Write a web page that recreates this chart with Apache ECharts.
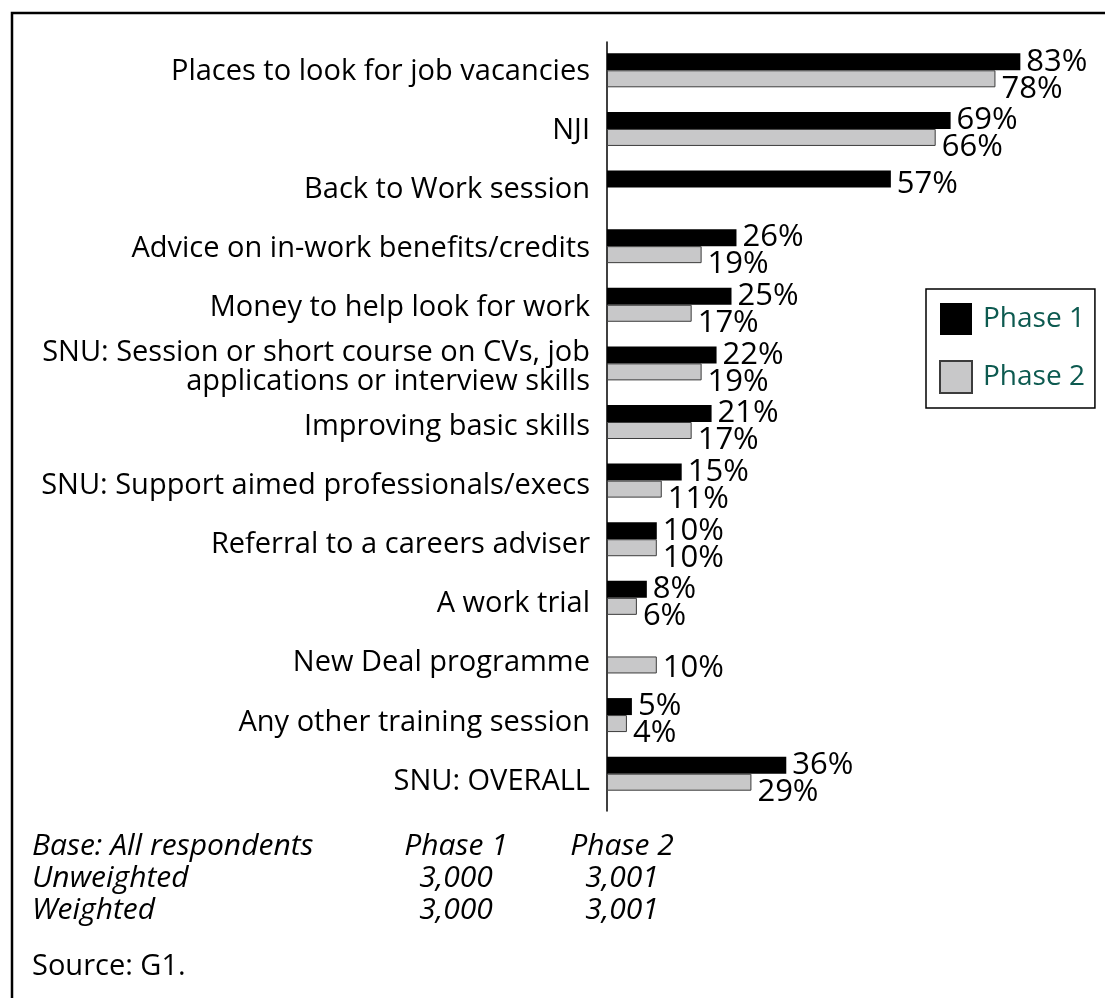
<!DOCTYPE html>
<html>
<head>
<meta charset="utf-8">
<script src="https://cdn.jsdelivr.net/npm/echarts@6/dist/echarts.min.js"></script>
<style>
  html, body { margin: 0; padding: 0; background: #fff; }
  #chart { width: 1105px; height: 998px; }
</style>
</head>
<body>
<div id="chart"></div>
<script>
// categories, top to bottom
const categories = [
  "Places to look for job vacancies",
  "NJI",
  "Back to Work session",
  "Advice on in-work benefits/credits",
  "Money to help look for work",
  "SNU: Session or short course on CVs, job\napplications or interview skills",
  "Improving basic skills",
  "SNU: Support aimed professionals/execs",
  "Referral to a careers adviser",
  "A work trial",
  "New Deal programme",
  "Any other training session",
  "SNU: OVERALL"
];
const phase1 = [83, 69, 57, 26, 25, 22, 21, 15, 10, 8, null, 5, 36];
const phase2 = [78, 66, null, 19, 17, 19, 17, 11, 10, 6, 10, 4, 29];
const seriesNames = ["Phase 1", "Phase 2"];

const baseHeader = ["Base: All respondents", "Phase 1", "Phase 2"];
const baseRows = [
  ["Unweighted", "3,000", "3,001"],
  ["Weighted", "3,000", "3,001"]
];
const sourceText = "Source: G1.";

const FONT = "Open Sans";
const chart = echarts.init(document.getElementById("chart"));

// footnote table as plain text
const footGraphics = [];
const colX = [32, 456, 622];
const rowY = [846, 878, 910];
[baseHeader].concat(baseRows).forEach((row, r) => {
  row.forEach((txt, c) => {
    footGraphics.push({
      type: "text",
      x: colX[c],
      y: rowY[r],
      style: {
        text: txt,
        fontFamily: FONT,
        fontStyle: "italic",
        fontSize: 30,
        fill: "#000",
        textAlign: c === 0 ? "left" : "center",
        textVerticalAlign: "middle"
      }
    });
  });
});

const labelCommon = {
  show: true,
  position: "right",
  distance: 6,
  formatter: "{c}%",
  fontFamily: FONT,
  fontSize: 31,
  color: "#000"
};

// rows with only one phase: label sits a little lower
const p1Data = phase1.map((v, i) =>
  phase2[i] == null ? { value: v, label: { offset: [0, 5] } } : v
);
const p2Data = phase2.map((v, i) =>
  phase1[i] == null ? { value: v, label: { offset: [0, 3] } } : v
);

chart.setOption({
  animation: false,
  grid: [
    { left: 607, top: 41, width: 498, height: 762 },
    // labels (and axis line) sit on a slightly taller, lower band than the bars
    { left: 607, top: 42, width: 498, height: 769 }
  ],
  legend: {
    data: seriesNames,
    orient: "vertical",
    left: 926,
    top: 289,
    padding: [14, 10, 14, 13],
    itemWidth: 32,
    itemHeight: 32,
    itemGap: 25,
    icon: "rect",
    borderColor: "#000",
    borderWidth: 1.5,
    textStyle: { fontFamily: FONT, fontSize: 28, color: "#0d5a50", padding: [0, 0, 0, 6] }
  },
  xAxis: [
    { type: "value", min: 0, max: 100, show: false, gridIndex: 0 },
    { type: "value", min: 0, max: 100, show: false, gridIndex: 1 }
  ],
  yAxis: [
    {
      type: "category",
      gridIndex: 0,
      data: categories,
      inverse: true,
      axisTick: { show: false },
      axisLine: { show: false },
      axisLabel: { show: false }
    },
    {
      type: "category",
      gridIndex: 1,
      data: categories,
      inverse: true,
      axisTick: { show: false },
      axisLine: { lineStyle: { color: "#000", width: 1.5 } },
      splitLine: { show: false },
      axisLabel: {
        margin: 17,
        fontFamily: FONT,
        fontSize: 29,
        color: "#000",
        lineHeight: 29,
        align: "right"
      }
    }
  ],
  series: [
    {
      name: seriesNames[0],
      type: "bar",
      data: p1Data,
      barWidth: 17,
      barGap: "0%",
      itemStyle: { color: "#000" },
      label: Object.assign({}, labelCommon, { offset: [0, 0] })
    },
    {
      name: seriesNames[1],
      type: "bar",
      data: p2Data,
      barWidth: 17,
      barGap: "0%",
      itemStyle: { color: "#c8c8c9", borderColor: "#3c3c3c", borderWidth: 1 },
      label: Object.assign({}, labelCommon, { offset: [0, 10] })
    }
  ],
  graphic: [
    {
      type: "polyline",
      shape: { points: [[12, 1000], [12, 13], [1110, 13]] },
      style: { stroke: "#000", lineWidth: 2.5, fill: null }
    },
    {
      type: "text",
      x: 32,
      y: 967,
      style: {
        text: sourceText,
        fontFamily: FONT,
        fontSize: 29,
        fill: "#000",
        textVerticalAlign: "middle"
      }
    }
  ].concat(footGraphics)
});
</script>
</body>
</html>
